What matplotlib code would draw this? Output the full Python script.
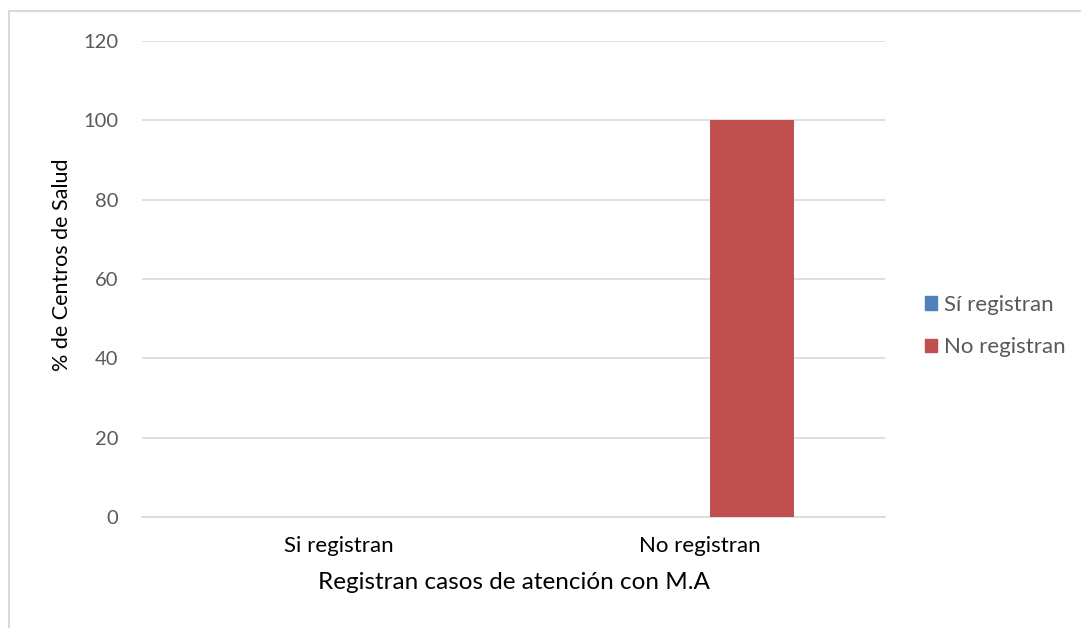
import matplotlib
matplotlib.use("Agg")
import matplotlib.pyplot as plt
from matplotlib.patches import Rectangle, Patch
import numpy as np

categories = ["Si registran", "No registran"]
series_names = ["Sí registran", "No registran"]
si_values = [0, 0]
no_values = [0, 100]
y_ticks = [0, 20, 40, 60, 80, 100, 120]

colors = ["#4F81BD", "#C0504D"]
plt.rcParams['font.family'] = ['Lato', 'DejaVu Sans']

W, H = 1081, 628
fig = plt.figure(figsize=(W/100, H/100), dpi=100)
ax = fig.add_axes([142/W, (H-517)/H, (885-142)/W, (517-41)/H])

x = np.arange(len(categories))
off = 0.144
bw = 0.233
ax.bar(x - off, si_values, bw, color=colors[0], zorder=3)
ax.bar(x + off, no_values, bw, color=colors[1], zorder=3)

ax.set_ylim(0, 120)
ax.set_xlim(-0.546, 1.512)
ax.set_yticks(y_ticks)
ax.set_yticklabels([str(v) for v in y_ticks], fontsize=14.5, color="#595959")
ax.set_xticks(x)
ax.set_xticklabels(categories, fontsize=16, color="#000000")
ax.tick_params(axis='both', length=0)
ax.tick_params(axis='y', pad=17)
ax.tick_params(axis='x', pad=14)
ax.grid(axis='y', color="#D9D9D9", linewidth=1.2, zorder=0)
for s in ["top", "right", "left"]:
    ax.spines[s].set_visible(False)
ax.spines["bottom"].set_color("#D9D9D9")
ax.spines["bottom"].set_linewidth(1.2)

ax.set_xlabel("Registran casos de atención con M.A", fontsize=17.5, labelpad=11)
ax.set_ylabel("% de Centros de Salud", fontsize=15.5)
ax.yaxis.set_label_coords(-(142 - 72) / (885 - 142), (517 - 265) / (517 - 41))

handles = [Patch(color=c) for c in colors]
fig.legend(handles, series_names, loc="center left", bbox_to_anchor=(905/W, 1 - 326/H),
           frameon=False, fontsize=16, handlelength=0.55, handleheight=0.55,
           handletextpad=0.3, labelspacing=1.0, labelcolor="#595959")

fig.patches.append(Rectangle((9/W, -0.1), 1.2, 1.1 - 11/H, transform=fig.transFigure,
                             fill=False, edgecolor="#D9D9D9", linewidth=1.5))

fig.savefig("out.png", dpi=100)
